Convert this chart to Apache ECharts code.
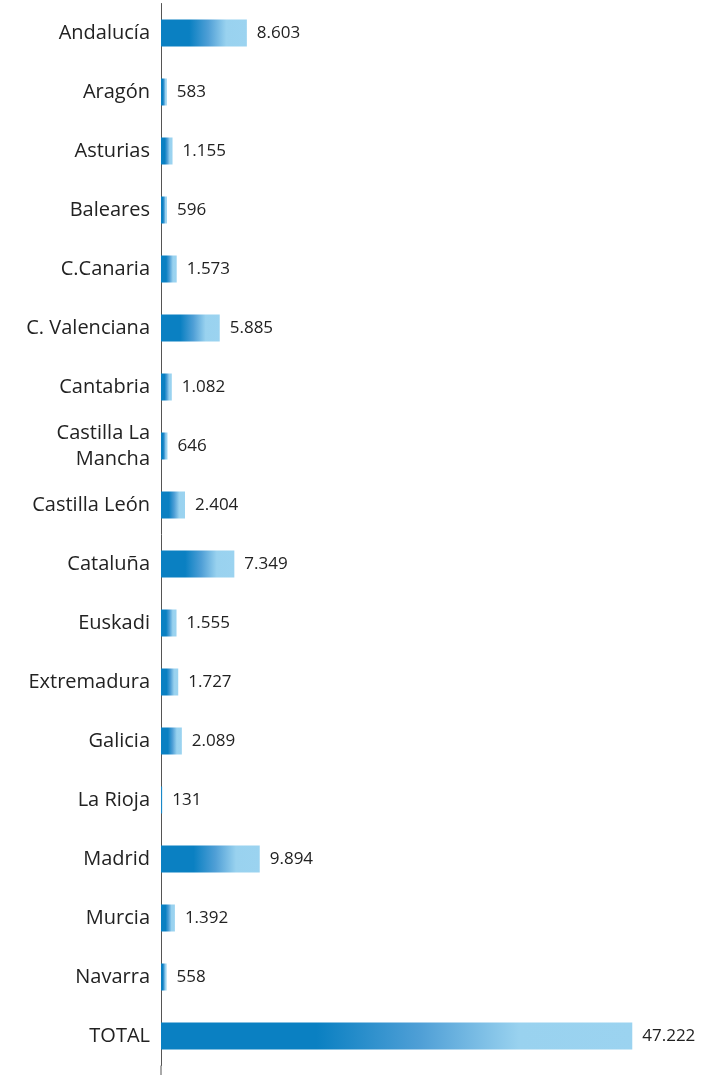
<!DOCTYPE html>
<html>
<head>
<meta charset="utf-8">
<script src="https://cdn.jsdelivr.net/npm/echarts@6/dist/echarts.min.js"></script>
<style>
  html, body { margin: 0; padding: 0; background: #fff; }
  #chart { width: 709px; height: 1075px; }
</style>
</head>
<body>
<div id="chart"></div>
<script>
// Regions, top to bottom
const regions = [
  'Andalucía', 'Aragón', 'Asturias', 'Baleares', 'C.Canaria', 'C. Valenciana',
  'Cantabria', 'Castilla La\nMancha', 'Castilla León', 'Cataluña', 'Euskadi',
  'Extremadura', 'Galicia', 'La Rioja', 'Madrid', 'Murcia', 'Navarra', 'TOTAL'
];
const values = [
  8603, 583, 1155, 596, 1573, 5885,
  1082, 646, 2404, 7349, 1555,
  1727, 2089, 131, 9894, 1392, 558, 47222
];

const fmt = v => v.toLocaleString('de-DE');

const barFill = new echarts.graphic.LinearGradient(0, 0, 1, 0, [
  { offset: 0, color: '#0a80c2' },
  { offset: 0.33, color: '#0a80c2' },
  { offset: 0.55, color: '#4f9fd6' },
  { offset: 0.76, color: '#99d2ef' },
  { offset: 1, color: '#9bd3f0' }
]);

const chart = echarts.init(document.getElementById('chart'), null, { renderer: 'canvas' });

const option = {
  animation: false,
  grid: { left: 161, right: 49, top: 3.5, bottom: 9.5, containLabel: false },
  xAxis: {
    type: 'value',
    min: 0,
    max: 50000,
    show: false
  },
  yAxis: {
    type: 'category',
    inverse: true,
    data: regions,
    axisLine: { show: true, lineStyle: { color: '#555', width: 1 } },
    axisTick: { show: false },
    splitLine: { show: false },
    axisLabel: {
      margin: 11,
      color: '#222',
      fontFamily: 'Open Sans',
      fontSize: 20,
      lineHeight: 26
    }
  },
  series: [{
    type: 'bar',
    data: values,
    barWidth: 27,
    itemStyle: { color: barFill },
    label: {
      show: true,
      position: 'right',
      distance: 10,
      color: '#222',
      fontFamily: 'Open Sans',
      fontSize: 17,
      formatter: p => fmt(p.value)
    }
  }]
};

chart.setOption(option);

// extend the category axis line down to the page bottom
const bottomY = chart.getHeight() - 9.5;
chart.setOption({
  graphic: [{
    type: 'line',
    shape: { x1: 161, y1: bottomY, x2: 161, y2: chart.getHeight() },
    style: { stroke: '#555', lineWidth: 1 },
    silent: true
  }]
});
</script>
</body>
</html>
